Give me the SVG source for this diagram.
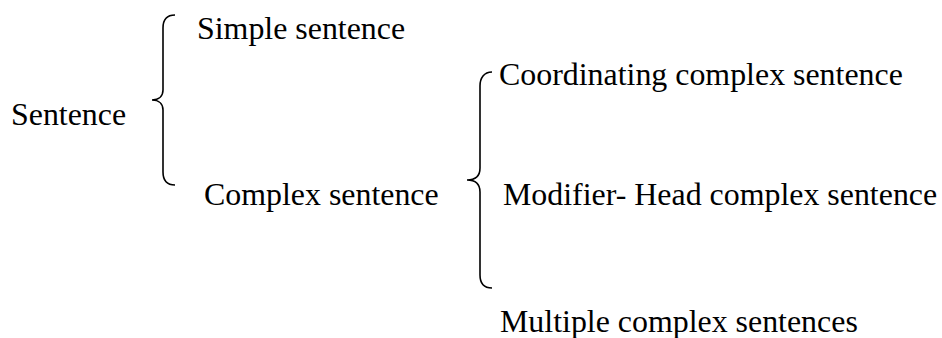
<svg xmlns="http://www.w3.org/2000/svg" width="942" height="338" viewBox="0 0 942 338">
<style>
text{font-family:"Liberation Serif","Times New Roman",serif;font-size:31.9px;fill:#000}
.brace{fill:none;stroke:#000;stroke-width:1.6}
</style>
<rect width="942" height="338" fill="#fff"/>
<g id="connectors">
<path class="brace" d="M175,15 C167,15 163,20 163,28 L163,90 C163,96 159,100 152,100 C159,100 163,104 163,110 L163,172 C163,180 167,185 175,185"/>
<path class="brace" d="M492,72 C484,72 480,78 480,86 L480,168 C480,175 476,180 467,180 C476,180 480,185 480,192 L480,275 C480,283 484,288 492,288"/>
</g>
<g id="sentence"><text x="11" y="124.5">Sentence</text></g>
<g id="simple"><text x="197" y="39">Simple sentence</text></g>
<g id="complex"><text x="204" y="205">Complex sentence</text></g>
<g id="coordinating"><text x="499" y="84.5">Coordinating complex sentence</text></g>
<g id="modifier"><text x="503" y="205">Modifier- Head complex sentence</text></g>
<g id="multiple"><text x="500" y="332">Multiple complex sentences</text></g>
</svg>
